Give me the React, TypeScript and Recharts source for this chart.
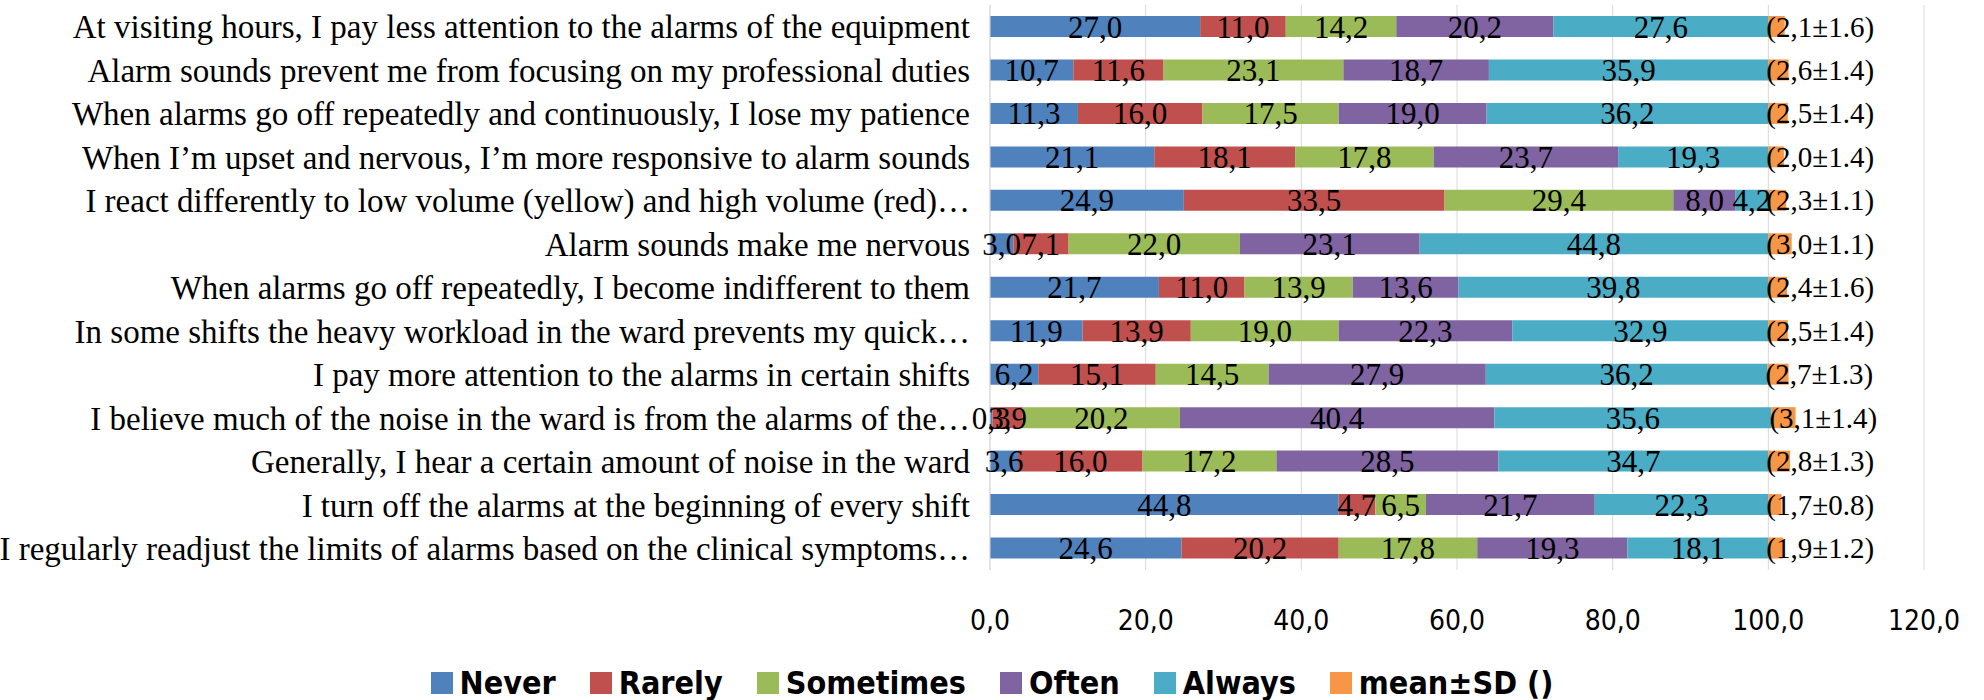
import React from 'react';
import {
  BarChart,
  Bar,
  XAxis,
  YAxis,
  CartesianGrid,
  LabelList,
} from 'recharts';

const questions = [
  'At visiting hours, I pay less attention to the alarms of the equipment',
  'Alarm sounds prevent me from focusing on my professional duties',
  'When alarms go off repeatedly and continuously, I lose my patience',
  'When I’m upset and nervous, I’m more responsive to alarm sounds',
  'I react differently to low volume (yellow) and high volume (red)…',
  'Alarm sounds make me nervous',
  'When alarms go off repeatedly, I become indifferent to them',
  'In some shifts the heavy workload in the ward prevents my quick…',
  'I pay more attention to the alarms in certain shifts',
  'I believe much of the noise in the ward is from the alarms of the…',
  'Generally, I hear a certain amount of noise in the ward',
  'I turn off the alarms at the beginning of every shift',
  'I regularly readjust the limits of alarms based on the clinical symptoms…',
];

const never = [27.0, 10.7, 11.3, 21.1, 24.9, 3.0, 21.7, 11.9, 6.2, 0.3, 3.6, 44.8, 24.6];
const rarely = [11.0, 11.6, 16.0, 18.1, 33.5, 7.1, 11.0, 13.9, 15.1, 3.9, 16.0, 4.7, 20.2];
const sometimes = [14.2, 23.1, 17.5, 17.8, 29.4, 22.0, 13.9, 19.0, 14.5, 20.2, 17.2, 6.5, 17.8];
const often = [20.2, 18.7, 19.0, 23.7, 8.0, 23.1, 13.6, 22.3, 27.9, 40.4, 28.5, 21.7, 19.3];
const always = [27.6, 35.9, 36.2, 19.3, 4.2, 44.8, 39.8, 32.9, 36.2, 35.6, 34.7, 22.3, 18.1];
const means = [2.1, 2.6, 2.5, 2.0, 2.3, 3.0, 2.4, 2.5, 2.7, 3.1, 2.8, 1.7, 1.9];
const sds = [1.6, 1.4, 1.4, 1.4, 1.1, 1.1, 1.6, 1.4, 1.3, 1.4, 1.3, 0.8, 1.2];

const xTicks = [0, 20, 40, 60, 80, 100, 120];

const data = questions.map((q, i) => ({
  q,
  never: never[i],
  rarely: rarely[i],
  sometimes: sometimes[i],
  often: often[i],
  always: always[i],
  mean: means[i],
}));

const series = [
  { key: 'never', name: 'Never', color: '#4F81BD' },
  { key: 'rarely', name: 'Rarely', color: '#C0504D' },
  { key: 'sometimes', name: 'Sometimes', color: '#9BBB59' },
  { key: 'often', name: 'Often', color: '#8064A2' },
  { key: 'always', name: 'Always', color: '#4BACC6' },
];

const serif = '"Liberation Serif", "Times New Roman", serif';
const sans = '"DejaVu Sans Condensed", "DejaVu Sans", sans-serif';

const comma = (v: number) => v.toFixed(1).replace('.', ',');

const MeanLabel = (props: any) => {
  const { x, y, height, index } = props;
  const label = `(${comma(means[index])}±${sds[index].toFixed(1)})`;
  return (
    <text
      x={x - 2}
      y={y + height / 2}
      dominantBaseline="central"
      fontFamily={serif}
      fontSize={29}
      fill="#000"
    >
      {label}
    </text>
  );
};

const legendItems = [...series, { key: 'mean', name: 'mean±SD ()', color: '#F79646' }];

export default function App() {
  return (
    <div style={{ position: 'absolute', left: 0, top: 0, width: 1984, height: 700, background: '#fff' }}>
      <BarChart
        width={1984}
        height={700}
        data={data}
        layout="vertical"
        barCategoryGap={0}
        margin={{ top: 5, right: 60, left: 0, bottom: 0 }}
      >
        <CartesianGrid horizontal={false} stroke="#d9d9d9" />
        <XAxis
          type="number"
          domain={[0, 120]}
          ticks={xTicks}
          tickFormatter={comma}
          axisLine={false}
          tickLine={false}
          height={130}
          tickMargin={34}
          tick={{ fontFamily: sans, fontSize: 28, fill: '#000' }}
        />
        <YAxis
          type="category"
          dataKey="q"
          width={990}
          axisLine={{ stroke: '#d9d9d9' }}
          tickLine={false}
          tickMargin={14}
          interval={0}
          tick={{ fontFamily: serif, fontSize: 33, fill: '#000' }}
        />
        {series.map((s) => (
          <Bar key={s.key} dataKey={s.key} name={s.name} stackId="a" fill={s.color} barSize={21} isAnimationActive={false}>
            <LabelList
              dataKey={s.key}
              position="center"
              formatter={(v: any) => comma(Number(v))}
              style={{ fontFamily: serif, fontSize: 31, fill: '#000' }}
            />
          </Bar>
        ))}
        <Bar dataKey="mean" name="mean±SD ()" stackId="a" fill="#F79646" barSize={21} isAnimationActive={false}>
          <LabelList dataKey="mean" content={<MeanLabel />} />
        </Bar>
      </BarChart>
      <div
        style={{
          position: 'absolute',
          top: 664,
          left: 0,
          width: 1984,
          display: 'flex',
          justifyContent: 'center',
          gap: 34,
          fontFamily: sans,
        }}
      >
        {legendItems.map((s) => (
          <div key={s.key} style={{ display: 'flex', alignItems: 'center' }}>
            <span style={{ width: 22, height: 22, background: s.color, marginRight: 7, display: 'inline-block' }} />
            <span style={{ fontSize: 32, fontWeight: 'bold', color: '#000', lineHeight: '38px' }}>{s.name}</span>
          </div>
        ))}
      </div>
    </div>
  );
}
